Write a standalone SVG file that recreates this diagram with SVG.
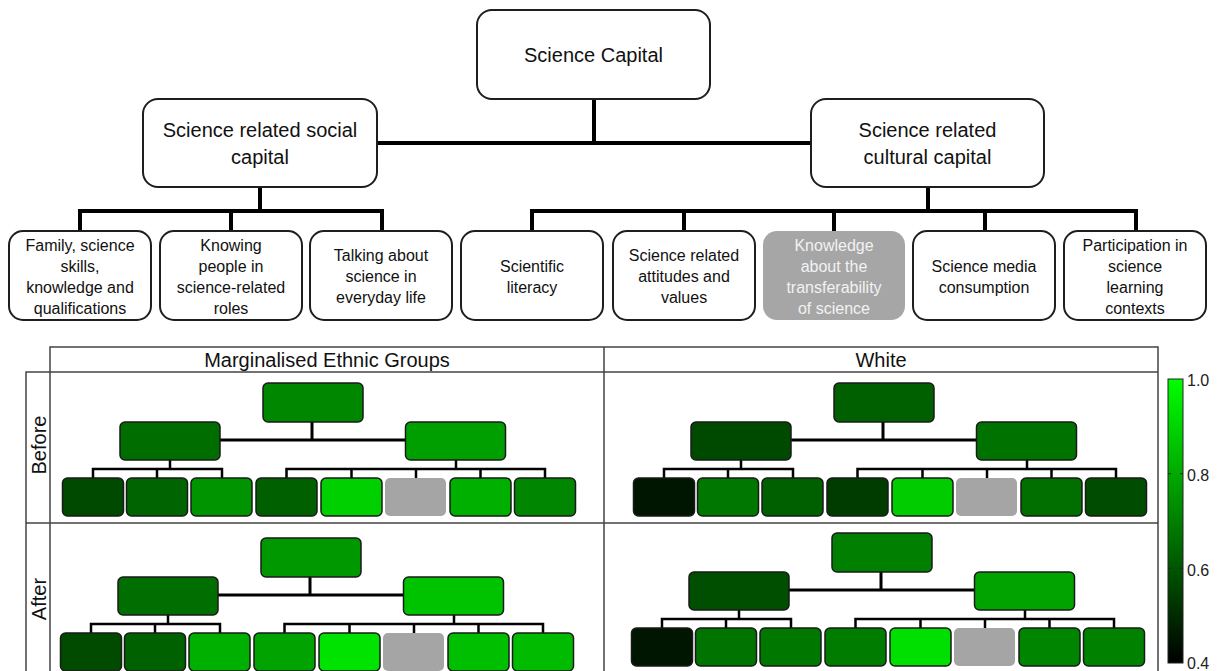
<svg xmlns="http://www.w3.org/2000/svg" xmlns:xlink="http://www.w3.org/1999/xlink" width="1218" height="671" viewBox="0 0 1218 671">
<style>
.nb{fill:#fff;stroke:#1e1e1e;stroke-width:2}
.gb{fill:#a6a6a6;stroke:none}
.t{font-family:"Liberation Sans",Arial,sans-serif;fill:#111;text-anchor:middle}
.h{font-size:20px}
.s{font-size:16px}
.w{fill:#f2f2f2}
.con{fill:none;stroke:#000;stroke-width:4;stroke-linejoin:miter}
.tl{fill:none;stroke:#000;stroke-width:3}
.tl2{fill:none;stroke:#000;stroke-width:2.5}
.mb{stroke:#1a1a1a;stroke-width:1.5}
.mg{fill:#a5a5a5;stroke:none}
.grid{fill:none;stroke:#444;stroke-width:1.5}
.cb{font-family:"Liberation Sans",Arial,sans-serif;font-size:16px;fill:#222}
</style>
<defs>
<linearGradient id="cgrad" x1="0" y1="0" x2="0" y2="1">
<stop offset="0" stop-color="#00ff00"/>
<stop offset="1" stop-color="#000000"/>
</linearGradient>
<g id="treeLines">
<path class="tl" d="M312 422 V440 M220 440 H405.5"/>
<path class="tl2" d="M170 460 V469 M93 478 V469 H222 V478 M157 469 V478 M456 460 V469 M286.5 478 V469 H545 V478 M351.5 469 V478 M416 469 V478 M480.5 469 V478"/>
</g>
</defs>
<rect width="1218" height="671" fill="#fff"/>

<g id="connectors">
<path class="con" d="M594 99 V143 M377 143 H811"/>
<path class="con" d="M260 187 V211 M80 231 V211 H382 V231 M231 211 V231"/>
<path class="con" d="M928 187 V211 M532 231 V211 H1136 V231 M684 211 V231 M834 211 V231 M985 211 V231"/>
</g>

<g id="science-capital">
<rect class="nb" x="477" y="10" width="233" height="89" rx="15"/>
<text class="t h" x="593.5" y="62">Science Capital</text>
</g>
<g id="social-capital">
<rect class="nb" x="143" y="99" width="234" height="88" rx="15"/>
<text class="t h" x="260" y="137">Science related social</text>
<text class="t h" x="260" y="164">capital</text>
</g>
<g id="cultural-capital">
<rect class="nb" x="811" y="99" width="233" height="88" rx="15"/>
<text class="t h" x="927.5" y="137">Science related</text>
<text class="t h" x="927.5" y="164">cultural capital</text>
</g>

<g id="leaf-family">
<rect class="nb" x="9" y="231" width="142" height="89" rx="14"/>
<text class="t s" x="80" y="251">Family, science</text>
<text class="t s" x="80" y="272">skills,</text>
<text class="t s" x="80" y="293">knowledge and</text>
<text class="t s" x="80" y="314">qualifications</text>
</g>
<g id="leaf-knowing">
<rect class="nb" x="160" y="231" width="142" height="89" rx="14"/>
<text class="t s" x="231" y="251">Knowing</text>
<text class="t s" x="231" y="272">people in</text>
<text class="t s" x="231" y="293">science-related</text>
<text class="t s" x="231" y="314">roles</text>
</g>
<g id="leaf-talking">
<rect class="nb" x="310" y="231" width="142" height="89" rx="14"/>
<text class="t s" x="381" y="261">Talking about</text>
<text class="t s" x="381" y="282">science in</text>
<text class="t s" x="381" y="303">everyday life</text>
</g>
<g id="leaf-literacy">
<rect class="nb" x="461" y="231" width="142" height="89" rx="14"/>
<text class="t s" x="532" y="272">Scientific</text>
<text class="t s" x="532" y="293">literacy</text>
</g>
<g id="leaf-attitudes">
<rect class="nb" x="613" y="231" width="142" height="89" rx="14"/>
<text class="t s" x="684" y="261">Science related</text>
<text class="t s" x="684" y="282">attitudes and</text>
<text class="t s" x="684" y="303">values</text>
</g>
<g id="leaf-transferability">
<rect class="gb" x="763" y="231" width="142" height="89" rx="14"/>
<text class="t s w" x="834" y="251">Knowledge</text>
<text class="t s w" x="834" y="272">about the</text>
<text class="t s w" x="834" y="293">transferability</text>
<text class="t s w" x="834" y="314">of science</text>
</g>
<g id="leaf-media">
<rect class="nb" x="913" y="231" width="142" height="89" rx="14"/>
<text class="t s" x="984" y="272">Science media</text>
<text class="t s" x="984" y="293">consumption</text>
</g>
<g id="leaf-participation">
<rect class="nb" x="1064" y="231" width="142" height="89" rx="14"/>
<text class="t s" x="1135" y="251">Participation in</text>
<text class="t s" x="1135" y="272">science</text>
<text class="t s" x="1135" y="293">learning</text>
<text class="t s" x="1135" y="314">contexts</text>
</g>

<g id="table">
<path class="grid" d="M50 671 V347 H1158 V671 M26 671 V372 H1158 M26 523 H1158 M604 347 V671"/>
<text class="t h" x="327" y="367">Marginalised Ethnic Groups</text>
<text class="t h" x="881" y="367">White</text>
<text class="t h" transform="translate(46 445) rotate(-90)">Before</text>
<text class="t h" transform="translate(46 599) rotate(-90)">After</text>
</g>

<g id="tree-meg-before">
<use xlink:href="#treeLines"/>
<rect class="mb" x="263" y="383" width="100" height="39" rx="5" fill="#008700"/>
<rect class="mb" x="120" y="422" width="100" height="38" rx="5" fill="#006d00"/>
<rect class="mb" x="405.5" y="422" width="100" height="38" rx="5" fill="#009f00"/>
<rect class="mb" x="62.5" y="478" width="61" height="38" rx="5" fill="#004a00"/>
<rect class="mb" x="126.5" y="478" width="61" height="38" rx="5" fill="#006400"/>
<rect class="mb" x="191" y="478" width="61" height="38" rx="5" fill="#009400"/>
<rect class="mb" x="256" y="478" width="61" height="38" rx="5" fill="#006000"/>
<rect class="mb" x="321" y="478" width="61" height="38" rx="5" fill="#00cf00"/>
<rect class="mg" x="385" y="478" width="61" height="38" rx="5"/>
<rect class="mb" x="450" y="478" width="61" height="38" rx="5" fill="#00b000"/>
<rect class="mb" x="514.5" y="478" width="61" height="38" rx="5" fill="#008600"/>
</g>

<g id="tree-meg-after" transform="translate(-2 155)">
<use xlink:href="#treeLines"/>
<rect class="mb" x="263" y="383" width="100" height="39" rx="5" fill="#009800"/>
<rect class="mb" x="120" y="422" width="100" height="38" rx="5" fill="#006e00"/>
<rect class="mb" x="405.5" y="422" width="100" height="38" rx="5" fill="#00c300"/>
<rect class="mb" x="62.5" y="478" width="61" height="38" rx="5" fill="#004b00"/>
<rect class="mb" x="126.5" y="478" width="61" height="38" rx="5" fill="#006100"/>
<rect class="mb" x="191" y="478" width="61" height="38" rx="5" fill="#00b000"/>
<rect class="mb" x="256" y="478" width="61" height="38" rx="5" fill="#00a300"/>
<rect class="mb" x="321" y="478" width="61" height="38" rx="5" fill="#00e300"/>
<rect class="mg" x="385" y="478" width="61" height="38" rx="5"/>
<rect class="mb" x="450" y="478" width="61" height="38" rx="5" fill="#00bf00"/>
<rect class="mb" x="514.5" y="478" width="61" height="38" rx="5" fill="#00bb00"/>
</g>

<g id="tree-white-before" transform="translate(571 0)">
<use xlink:href="#treeLines"/>
<rect class="mb" x="263" y="383" width="100" height="39" rx="5" fill="#006000"/>
<rect class="mb" x="120" y="422" width="100" height="38" rx="5" fill="#004a00"/>
<rect class="mb" x="405.5" y="422" width="100" height="38" rx="5" fill="#007200"/>
<rect class="mb" x="62.5" y="478" width="61" height="38" rx="5" fill="#001600"/>
<rect class="mb" x="126.5" y="478" width="61" height="38" rx="5" fill="#007700"/>
<rect class="mb" x="191" y="478" width="61" height="38" rx="5" fill="#006000"/>
<rect class="mb" x="256" y="478" width="61" height="38" rx="5" fill="#003b00"/>
<rect class="mb" x="321" y="478" width="61" height="38" rx="5" fill="#00cc00"/>
<rect class="mg" x="385" y="478" width="61" height="38" rx="5"/>
<rect class="mb" x="450" y="478" width="61" height="38" rx="5" fill="#006f00"/>
<rect class="mb" x="514.5" y="478" width="61" height="38" rx="5" fill="#004c00"/>
</g>

<g id="tree-white-after" transform="translate(569 150)">
<use xlink:href="#treeLines"/>
<rect class="mb" x="263" y="383" width="100" height="39" rx="5" fill="#007f00"/>
<rect class="mb" x="120" y="422" width="100" height="38" rx="5" fill="#004f00"/>
<rect class="mb" x="405.5" y="422" width="100" height="38" rx="5" fill="#00a300"/>
<rect class="mb" x="62.5" y="478" width="61" height="38" rx="5" fill="#001600"/>
<rect class="mb" x="126.5" y="478" width="61" height="38" rx="5" fill="#007300"/>
<rect class="mb" x="191" y="478" width="61" height="38" rx="5" fill="#007800"/>
<rect class="mb" x="256" y="478" width="61" height="38" rx="5" fill="#007c00"/>
<rect class="mb" x="321" y="478" width="61" height="38" rx="5" fill="#00e000"/>
<rect class="mg" x="385" y="478" width="61" height="38" rx="5"/>
<rect class="mb" x="450" y="478" width="61" height="38" rx="5" fill="#008500"/>
<rect class="mb" x="514.5" y="478" width="61" height="38" rx="5" fill="#008200"/>
</g>

<g id="colorbar">
<rect x="1168" y="379" width="15" height="284" fill="url(#cgrad)" stroke="#222" stroke-width="1"/>
<path d="M1180 473.7 H1183 M1180 568.3 H1183 M1168 473.7 H1171 M1168 568.3 H1171" stroke="#222" stroke-width="1"/>
<text class="cb" x="1187" y="386">1.0</text>
<text class="cb" x="1187" y="481">0.8</text>
<text class="cb" x="1187" y="576">0.6</text>
<text class="cb" x="1187" y="669">0.4</text>
</g>
</svg>
